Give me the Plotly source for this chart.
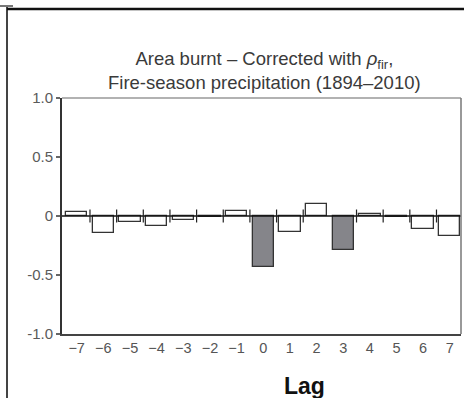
import plotly.graph_objects as go

lags = [-7, -6, -5, -4, -3, -2, -1, 0, 1, 2, 3, 4, 5, 6, 7]
values = [0.03, -0.14, -0.05, -0.085, -0.03, -0.005, 0.04, -0.43, -0.135, 0.10, -0.29, 0.02, -0.005, -0.11, -0.17]
significant = [False, False, False, False, False, False, False, True, False, False, True, False, False, False, False]
x_tick_labels = ["\u22127", "\u22126", "\u22125", "\u22124", "\u22123", "\u22122", "\u22121", "0", "1", "2", "3", "4", "5", "6", "7"]
y_tick_vals = [1.0, 0.5, 0.0, -0.5, -1.0]
y_tick_labels = ["1.0", "0.5", "0", "-0.5", "-1.0"]
zero_ticks = [-6.5, -5.5, -4.5, -3.5, -2.5, -1.5, -0.5, 0.5, 1.5, 3.5, 4.5, 5.5, 6.5]

fills = ["#85858a" if s else "white" for s in significant]

W, H = 464, 398
L, R, T, B = 62, 3, 98, 64
PW, PH = W - L - R, H - T - B


def px_x(p):
    return (p - L) / PW


def px_y(p):
    return (H - B - p) / PH


fig = go.Figure()
fig.add_trace(go.Bar(
    x=lags, y=values, width=0.8,
    marker=dict(color=fills, line=dict(color="#333333", width=1.3)),
    showlegend=False, hoverinfo="x+y",
))

shapes = []
shapes.append(dict(type="line", xref="paper", yref="y", x0=0, x1=1, y0=0, y1=0,
                   line=dict(color="#111111", width=1.6)))
for t in zero_ticks:
    shapes.append(dict(type="line", xref="x", yref="y", x0=t, x1=t, y0=-0.055, y1=0.055,
                       line=dict(color="#222222", width=1.2)))
# plot frame (top / right, light grey)
shapes.append(dict(type="line", xref="paper", yref="paper", x0=0, x1=1, y0=1, y1=1,
                   line=dict(color="#999999", width=1.5)))
shapes.append(dict(type="line", xref="paper", yref="paper", x0=1, x1=1, y0=0, y1=1,
                   line=dict(color="#777777", width=1.5)))
# outer cell frame: left and top rules
shapes.append(dict(type="line", xref="paper", yref="paper", x0=px_x(7), x1=px_x(7),
                   y0=px_y(H + 2), y1=px_y(7), line=dict(color="#444444", width=2)))
shapes.append(dict(type="line", xref="paper", yref="paper", x0=px_x(7), x1=px_x(W + 2),
                   y0=px_y(9), y1=px_y(9), line=dict(color="#111111", width=2.5)))
shapes.append(dict(type="line", xref="paper", yref="paper", x0=px_x(0), x1=px_x(13),
                   y0=px_y(6), y1=px_y(6), line=dict(color="#777777", width=2)))

fig.update_layout(
    width=W, height=H,
    margin=dict(l=L, r=R, t=T, b=B),
    plot_bgcolor="white", paper_bgcolor="white",
    font=dict(family="Liberation Sans, Arial, sans-serif", color="#555555"),
    bargap=0,
    shapes=shapes,
    xaxis=dict(
        range=[-7.55, 7.42], tickmode="array", tickvals=lags, ticktext=x_tick_labels,
        showgrid=False, zeroline=False, showline=True, linecolor="#444444", linewidth=1.5,
        ticks="", tickfont=dict(size=14.5, color="#555555"),
    ),
    yaxis=dict(
        range=[-1, 1], tickmode="array", tickvals=y_tick_vals, ticktext=y_tick_labels,
        showgrid=False, zeroline=False, showline=True, linecolor="#333333", linewidth=2,
        ticks="outside", ticklen=4, tickwidth=1.5, tickcolor="#666666",
        tickfont=dict(size=15, color="#5a5a5a"),
    ),
    annotations=[
        dict(xref="paper", yref="paper", x=px_x(264), y=px_y(46), yanchor="top",
             xanchor="center", showarrow=False, align="center",
             text="Area burnt \u2013 Corrected with <i>\u03c1</i><sub>fir</sub>,<br>Fire-season precipitation (1894\u20132010)",
             font=dict(size=18.5, color="#3a3a3a")),
        dict(xref="paper", yref="paper", x=px_x(304), y=px_y(371), yanchor="top",
             xanchor="center", showarrow=False, text="<b>Lag</b>",
             font=dict(size=23, color="#111111")),
    ],
)

fig.write_html("out.html", config={"displayModeBar": False},
               post_script="document.body.style.margin='0';document.body.style.overflow='hidden';")
